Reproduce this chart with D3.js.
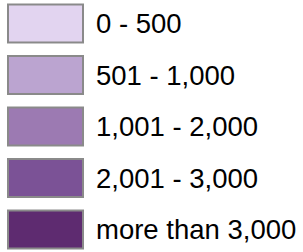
<!DOCTYPE html>
<html>
<head>
  <script src="https://d3js.org/d3.v7.min.js"></script>
  <style>
    body { margin: 0; background: #fff; }
    svg { display: block; }
  </style>
</head>
<body>
  <svg id="legend" width="303" height="252"></svg>
  <script>
    // legend classes and their colours
    const labels = ['0 - 500', '501 - 1,000', '1,001 - 2,000', '2,001 - 3,000', 'more than 3,000'];
    const colors = ['#e2d4f0', '#bba4d0', '#9c7ab2', '#7b5296', '#5e2b70'];

    const svg = d3.select('#legend');

    const y = d3.scaleBand()
      .domain(labels)
      .range([4, 249])
      .paddingInner(0.243)
      .paddingOuter(0);

    const color = d3.scaleOrdinal().domain(labels).range(colors);

    const row = svg.selectAll('g')
      .data(labels)
      .join('g')
      .attr('transform', d => `translate(0,${y(d)})`);

    row.append('rect')
      .attr('x', 8)
      .attr('y', 0.5)
      .attr('width', 75)
      .attr('height', y.bandwidth() - 1)
      .attr('fill', d => color(d))
      .attr('stroke', '#8a8a8a')
      .attr('stroke-width', 2);

    row.append('text')
      .attr('x', 96)
      .attr('y', 29)
      .attr('font-family', 'Liberation Sans, Arial, sans-serif')
      .attr('font-size', 27.5)
      .attr('fill', '#000')
      .text(d => d);
  </script>
</body>
</html>
